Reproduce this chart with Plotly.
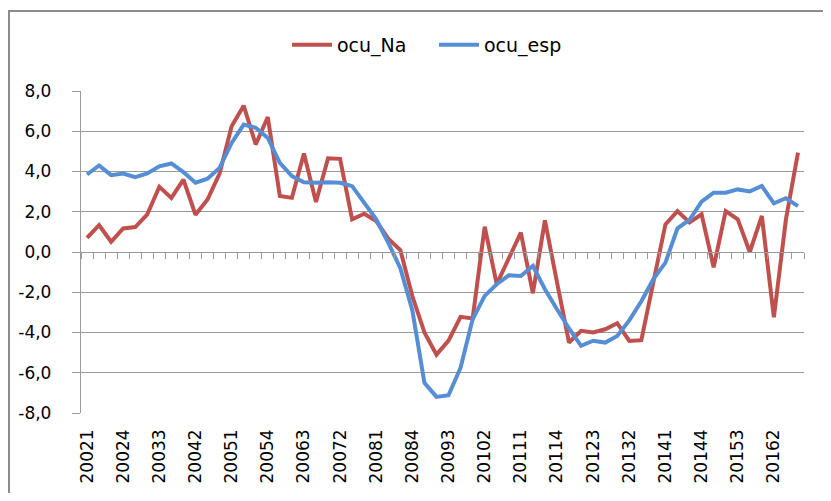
import plotly.graph_objects as go

# Quarterly categories 2002Q1 .. 2016Q4 (label = year + quarter)
categories = [f"{y}{q}" for y in range(2002, 2017) for q in range(1, 5)]

ocu_na = [0.7, 1.34, 0.51, 1.17, 1.24, 1.87, 3.24, 2.69, 3.6, 1.85,
          2.61, 3.9, 6.25, 7.27, 5.34, 6.71, 2.78, 2.69, 4.89, 2.48,
          4.66, 4.63, 1.62, 1.9, 1.54, 0.66, 0.1, -2.2, -4.0, -5.1,
          -4.4, -3.22, -3.3, 1.26, -1.6, -0.36, 0.96, -2.05, 1.57, -1.5,
          -4.5, -3.92, -4.0, -3.84, -3.54, -4.42, -4.38, -1.5, 1.37, 2.03,
          1.47, 1.87, -0.76, 2.03, 1.62, 0.0, 1.79, -3.24, 1.62, 4.94]

ocu_esp = [3.85, 4.3, 3.82, 3.9, 3.72, 3.9, 4.26, 4.4, 3.97, 3.44,
           3.64, 4.18, 5.42, 6.33, 6.17, 5.67, 4.43, 3.77, 3.47, 3.44,
           3.47, 3.44, 3.27, 2.45, 1.62, 0.46, -0.8, -2.9, -6.5, -7.2,
           -7.12, -5.75, -3.34, -2.18, -1.6, -1.16, -1.19, -0.69, -1.85, -2.84,
           -3.8, -4.66, -4.41, -4.5, -4.17, -3.4, -2.45, -1.35, -0.53, 1.18,
           1.6, 2.5, 2.95, 2.95, 3.11, 3.01, 3.28, 2.42, 2.67, 2.28]

label_every = 3
tick_labels = categories[::label_every]

y_tick_values = [-8, -6, -4, -2, 0, 2, 4, 6, 8]
y_tick_text = ["-8,0", "-6,0", "-4,0", "-2,0", "0,0", "2,0", "4,0", "6,0", "8,0"]

RED = "#C0504D"
BLUE = "#558ED5"
GRID = "#9A9A9A"
FONT = "DejaVu Sans"

# the page body adds an 8px margin, so the figure is sized to fit inside it
W, H = 815, 485
ML, MT, MR, MB = 73, 83, 19, 80
PW, PH = W - ML - MR, H - MT - MB

fig = go.Figure()
fig.add_trace(go.Scatter(x=categories, y=ocu_na, mode="lines", name="ocu_Na",
                         line=dict(color=RED, width=4)))
fig.add_trace(go.Scatter(x=categories, y=ocu_esp, mode="lines", name="ocu_esp",
                         line=dict(color=BLUE, width=4)))
# invisible helper trace to set up the category axis drawn at y = 0
fig.add_trace(go.Scatter(x=categories, y=ocu_na, xaxis="x2", mode="lines",
                         opacity=0, showlegend=False, hoverinfo="skip",
                         line=dict(width=0)))

fig.update_layout(
    width=W, height=H,
    margin=dict(l=ML, r=MR, t=MT, b=MB, pad=0, autoexpand=False),
    paper_bgcolor="white", plot_bgcolor="white",
    font=dict(family=FONT, size=16, color="black"),
    showlegend=True,
    legend=dict(orientation="h", xref="container", yref="container",
                x=(290 - 8 - 3) / W, xanchor="left", y=1 - 37 / H, yanchor="middle",
                font=dict(family=FONT, size=19, color="black"),
                itemwidth=40, entrywidth=92, tracegroupgap=0,
                bgcolor="rgba(0,0,0,0)"),
    xaxis=dict(type="category", range=[-0.5, len(categories) - 0.5],
               tickmode="array", tickvals=tick_labels, ticktext=tick_labels,
               tickangle=-90, ticks="", showgrid=False, showline=False, zeroline=False,
               ticklabelstandoff=12, automargin=False,
               tickfont=dict(family=FONT, size=17, color="black")),
    xaxis2=dict(type="category", overlaying="x", anchor="free", position=0.5,
                matches="x", side="bottom",
                tickmode="linear", tick0=0, dtick=1, tickson="boundaries",
                ticks="outside", ticklen=6, tickwidth=1, tickcolor=GRID,
                showticklabels=False, showgrid=False, showline=True,
                linecolor=GRID, linewidth=1.3, zeroline=False),
    yaxis=dict(range=[-8, 8], tickmode="array", tickvals=y_tick_values,
               ticktext=y_tick_text,
               showgrid=True, gridcolor=GRID, gridwidth=1.3,
               zeroline=False, showline=True, linecolor=GRID, linewidth=1.3,
               ticks="outside", ticklen=8, tickcolor=GRID, tickwidth=1.3,
               ticklabelstandoff=17, automargin=False,
               tickfont=dict(family=FONT, size=17, color="black")),
    shapes=[dict(type="rect", xref="paper", yref="paper",
                 x0=(1 - ML) / PW, x1=1.3, y0=-0.6, y1=1 + (MT - 3) / PH,
                 line=dict(color="#8C8C8C", width=2), fillcolor="rgba(0,0,0,0)",
                 layer="below")],
)

fig.write_html("out.html")
